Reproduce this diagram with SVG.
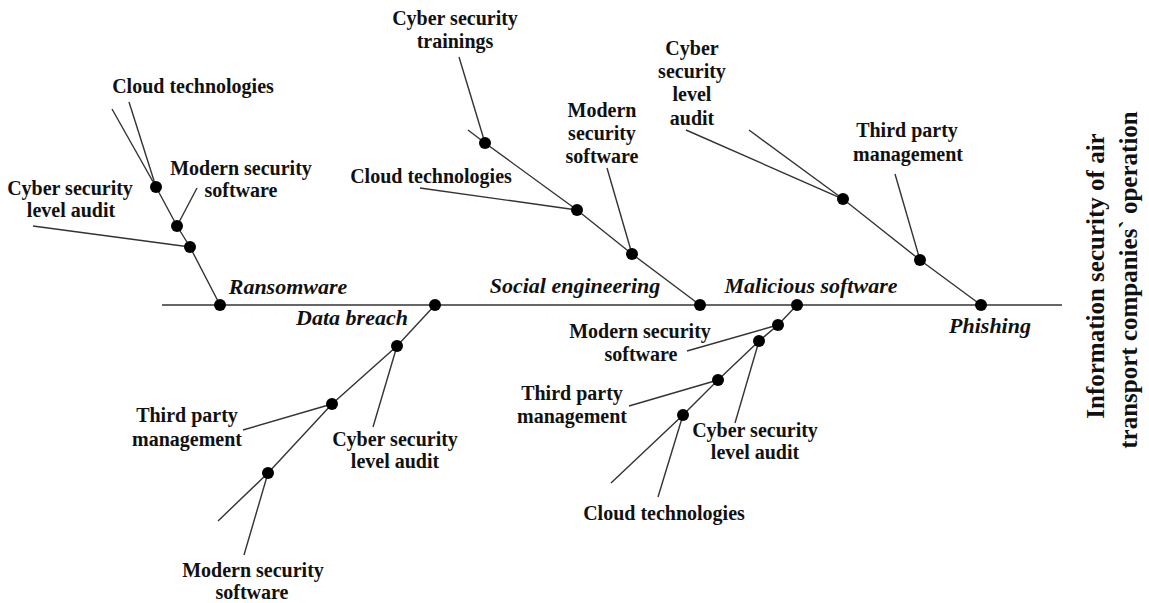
<svg xmlns="http://www.w3.org/2000/svg" width="1149" height="603" viewBox="0 0 1149 603">
<style>
.l{stroke:#333;stroke-width:1.4;fill:none}
.d{fill:#000}
.t{font-family:"Liberation Serif","Times New Roman",serif;font-weight:bold;font-size:20px;fill:#111;text-anchor:middle}
.c{font-family:"Liberation Serif","Times New Roman",serif;font-weight:bold;font-style:italic;font-size:22px;fill:#111;text-anchor:middle}
.h{font-family:"Liberation Serif","Times New Roman",serif;font-weight:bold;font-size:25px;fill:#111;text-anchor:middle}
</style>
<rect width="1149" height="603" fill="#fff"/>
<g id="connectors">
<line class="l" x1="162" y1="305" x2="1062" y2="305"/>
<!-- Ransomware -->
<polyline class="l" points="220,305 190,247 177,226 156,187 112,109"/>
<line class="l" x1="156" y1="187" x2="129" y2="102"/>
<line class="l" x1="177" y1="226" x2="197" y2="188"/>
<line class="l" x1="190" y1="247" x2="33" y2="226"/>
<!-- Data breach -->
<polyline class="l" points="435,305 397,346 332,404 268,473 218,521"/>
<line class="l" x1="268" y1="473" x2="244" y2="555"/>
<line class="l" x1="397" y1="346" x2="373" y2="427"/>
<line class="l" x1="332" y1="404" x2="243" y2="430"/>
<!-- Social engineering -->
<polyline class="l" points="700,305 632,254 577,210 485,143 468,130"/>
<line class="l" x1="485" y1="143" x2="459" y2="57"/>
<line class="l" x1="577" y1="210" x2="420" y2="188"/>
<line class="l" x1="632" y1="254" x2="607" y2="168"/>
<!-- Malicious software -->
<polyline class="l" points="797,305 778,325 759,341 718,380 683,415 611,483"/>
<line class="l" x1="683" y1="415" x2="658" y2="497"/>
<line class="l" x1="759" y1="341" x2="735" y2="423"/>
<line class="l" x1="718" y1="380" x2="629" y2="406"/>
<line class="l" x1="778" y1="325" x2="687" y2="351"/>
<!-- Phishing -->
<polyline class="l" points="981,305 920,260 843,199 686,130"/>
<line class="l" x1="843" y1="199" x2="749" y2="130"/>
<line class="l" x1="920" y1="260" x2="895" y2="174"/>
</g>
<g id="ransomware">
<circle class="d" cx="220" cy="305" r="6"/>
<circle class="d" cx="190" cy="247" r="6"/>
<circle class="d" cx="177" cy="226" r="6"/>
<circle class="d" cx="156" cy="187" r="6"/>
<text class="c" x="288" y="294">Ransomware</text>
<text class="t" x="193" y="93">Cloud technologies</text>
<text class="t" x="241" y="175">Modern security</text>
<text class="t" x="241" y="197">software</text>
<text class="t" x="70" y="195">Cyber security</text>
<text class="t" x="71" y="217">level audit</text>
</g>
<g id="data-breach">
<circle class="d" cx="435" cy="305" r="6"/>
<circle class="d" cx="397" cy="346" r="6"/>
<circle class="d" cx="332" cy="404" r="6"/>
<circle class="d" cx="268" cy="473" r="6"/>
<text class="c" x="352" y="325">Data breach</text>
<text class="t" x="187" y="422">Third party</text>
<text class="t" x="187" y="446">management</text>
<text class="t" x="395" y="446">Cyber security</text>
<text class="t" x="395" y="468">level audit</text>
<text class="t" x="253" y="577">Modern security</text>
<text class="t" x="252" y="599">software</text>
</g>
<g id="social-engineering">
<circle class="d" cx="700" cy="305" r="6"/>
<circle class="d" cx="632" cy="254" r="6"/>
<circle class="d" cx="577" cy="210" r="6"/>
<circle class="d" cx="485" cy="143" r="6"/>
<text class="c" x="575" y="293">Social engineering</text>
<text class="t" x="455" y="25">Cyber security</text>
<text class="t" x="455" y="48">trainings</text>
<text class="t" x="431" y="183">Cloud technologies</text>
<text class="t" x="602" y="117">Modern</text>
<text class="t" x="602" y="140">security</text>
<text class="t" x="602" y="163">software</text>
</g>
<g id="malicious-software">
<circle class="d" cx="797" cy="305" r="6"/>
<circle class="d" cx="778" cy="325" r="6"/>
<circle class="d" cx="759" cy="341" r="6"/>
<circle class="d" cx="718" cy="380" r="6"/>
<circle class="d" cx="683" cy="415" r="6"/>
<text class="c" x="811" y="293">Malicious software</text>
<text class="t" x="640" y="338">Modern security</text>
<text class="t" x="641" y="361">software</text>
<text class="t" x="572" y="400">Third party</text>
<text class="t" x="572" y="423">management</text>
<text class="t" x="755" y="437">Cyber security</text>
<text class="t" x="755" y="459">level audit</text>
<text class="t" x="664" y="520">Cloud technologies</text>
</g>
<g id="phishing">
<circle class="d" cx="981" cy="305" r="6"/>
<circle class="d" cx="920" cy="260" r="6"/>
<circle class="d" cx="843" cy="199" r="6"/>
<text class="c" x="990" y="333">Phishing</text>
<text class="t" x="692" y="55">Cyber</text>
<text class="t" x="692" y="78">security</text>
<text class="t" x="692" y="101">level</text>
<text class="t" x="692" y="125">audit</text>
<text class="t" x="907" y="137">Third party</text>
<text class="t" x="908" y="161">management</text>
</g>
<g id="effect">
<text class="h" transform="translate(1104,276) rotate(-90)">Information security of air</text>
<text class="h" transform="translate(1137,280) rotate(-90)">transport companies` operation</text>
</g>
</svg>
